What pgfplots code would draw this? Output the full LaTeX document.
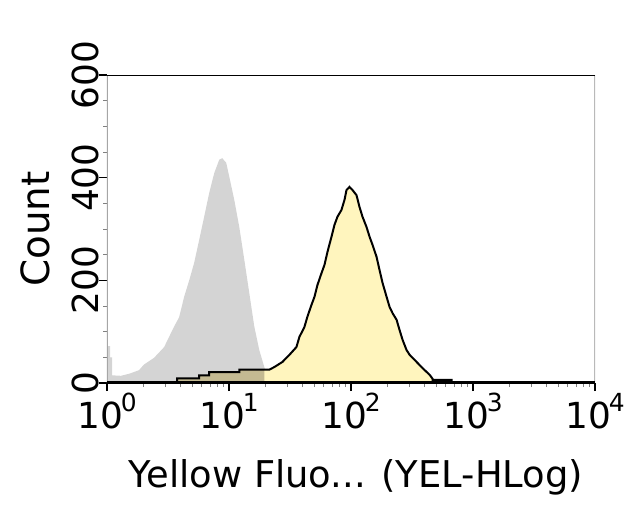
\documentclass[border=0pt]{standalone}
\usepackage{fontspec}
\setmainfont{DejaVu Sans}
\usepackage{pgfplots}
\usepackage{pgfplotstable}
\pgfplotsset{compat=1.18}
\definecolor{histgray}{RGB}{212,212,212}
\definecolor{histyellow}{RGB}{255,245,190}
\definecolor{histtan}{RGB}{196,186,146}
\newcommand\dec[1]{10\kern-2bp\raisebox{17bp}{\fontsize{25}{25}\selectfont #1}}

\pgfplotstableread{
x y
1.01 0
1.01 72
1.06 72
1.06 50
1.10 50
1.10 15
1.30 14
1.52 18
1.83 25
2.01 36
2.43 49
2.94 70
3.55 110
3.90 128
4.29 168
4.72 200
5.18 234
5.70 279
6.26 324
6.88 370
7.57 409
8.32 435
8.80 438
9.49 429
10.05 402
11.04 357
12.14 304
13.35 240
14.67 175
16.12 110
17.72 64
19.48 31
20.6 15
21.4 0
}\grayhist

\pgfplotstableread{
x y
3.76 0
3.76 9
5.70 9
5.70 15
6.88 15
6.88 21
12.14 21
12.14 26
21.4 26
23.5 31
27.4 41
31.3 55
35.7 70
37.8 90
41.5 109
43.9 129
47.4 152
50.2 168
53.1 191
57.3 214
60.6 230
64.1 255
69.2 285
73.2 308
77.5 324
83.5 337
88.5 357
91.9 376
97.2 382
102.8 376
110.9 366
117.4 343
124.2 324
134.0 304
141.9 285
150.2 269
161.9 246
171.4 220
181.4 195
195.7 168
207.2 148
219.2 136
236.5 123
250.2 103
264.8 84
285.6 64
302.3 55
345 41
386 29
441 16
467 8
467 6
669 6
669 0
}\yellowhist

\pgfplotstableread{
x y
3.76 0
3.76 9
5.70 9
5.70 15
6.88 15
6.88 21
12.14 21
12.14 26
19.5 26
19.5 0
}\tantail

\begin{document}
\begin{tikzpicture}
\useasboundingbox (-107bp,-144bp) rectangle (533bp,383bp);
\begin{axis}[
  at={(0,0)}, anchor=south west,
  scale only axis, width=488bp, height=308bp,
  xmode=log, xmin=1, xmax=10000, ymin=0, ymax=600,
  axis line style={draw=none},
  xtick={1,10,100,1000,10000},
  xticklabels={\dec{0},\dec{1},\dec{2},\dec{3},\dec{4}},
  minor xtick={2,3,...,9,20,30,...,90,200,300,...,900,2000,3000,...,9000},
  ytick={0,200,400,600},
  yticklabels={0,200,400,600},
  minor ytick={50,100,150,250,300,350,450,500,550},
  tick pos=left,
  tick align=outside,
  major tick length=8bp,
  minor tick length=4bp,
  major tick style={black, line width=1.2bp},
  minor tick style={gray, line width=1bp},
  ticklabel style={font=\fontsize{36}{36}\selectfont},
  xticklabel style={anchor=base, inner sep=0pt},
  xticklabel shift=37bp,
  yticklabel style={rotate=90, anchor=base, inner sep=0pt},
  yticklabel shift=1bp,
  xlabel={Yellow Fluo... (YEL-HLog)},
  xlabel style={at={(axis description cs:0.51,-0.3377)}, anchor=base, inner sep=0pt, font=\fontsize{37}{37}\selectfont},
  ylabel={Count},
  ylabel style={at={(axis description cs:-0.1168,0.5)}, anchor=base, inner sep=0pt, font=\fontsize{39}{39}\selectfont},
  clip=true,
]
\addplot[fill=histgray, draw=none] table {\grayhist} \closedcycle;
\addplot[fill=histyellow, draw=none] table {\yellowhist} \closedcycle;
\addplot[fill=histtan, draw=none] table {\tantail} \closedcycle;
\addplot[black, line width=2bp] table {\yellowhist};
\draw[gray!70, line width=1.5bp] (rel axis cs:0,0) -- (rel axis cs:0,1);
\draw[gray!55, line width=3bp] (rel axis cs:1,0) -- (rel axis cs:1,1);
\draw[black, line width=2bp] (rel axis cs:0,1) -- (rel axis cs:1,1);
\draw[black, line width=4bp] (rel axis cs:0,0) -- (rel axis cs:1,0);
\end{axis}
\end{tikzpicture}
\end{document}
